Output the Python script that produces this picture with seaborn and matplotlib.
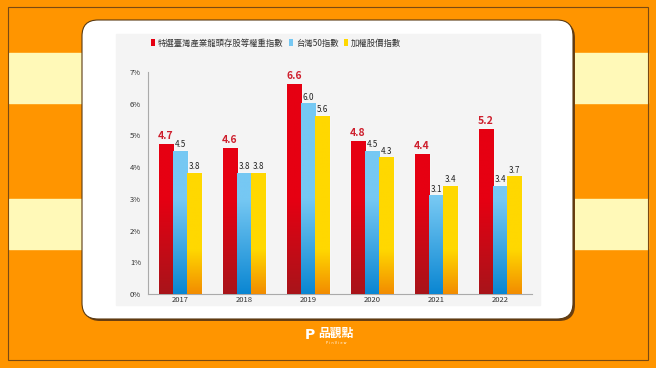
import numpy as np
import pandas as pd
import seaborn as sns
import matplotlib.pyplot as plt
import matplotlib.colors as mcolors
from matplotlib.patches import Rectangle, FancyBboxPatch, Patch
from matplotlib.transforms import IdentityTransform

# 資料
years = ["2017", "2018", "2019", "2020", "2021", "2022"]
series = ["特選臺灣產業龍頭存股等權重指數", "台灣50指數", "加權股價指數"]
val_select = [4.7, 4.6, 6.6, 4.8, 4.4, 5.2]
val_tw50 = [4.5, 3.8, 6.0, 4.5, 3.1, 3.4]
val_taiex = [3.8, 3.8, 5.6, 4.3, 3.4, 3.7]

df = pd.DataFrame({
    "year": years * 3,
    "series": [s for s in series for _ in years],
    "value": val_select + val_tw50 + val_taiex,
})

# 漸層色 (上, 下, 過渡高度)
grad = {
    series[0]: ("#E60012", "#A8141A", 3.0),
    series[1]: ("#76C8F3", "#0A86D2", 3.0),
    series[2]: ("#FFD800", "#F28C00", 1.4),
}
flat = [grad[s][0] for s in series]

sns.set_theme(style="white")
plt.rcParams["font.family"] = ["Noto Sans CJK TC", "DejaVu Sans"]

W, H = 656, 368
fig = plt.figure(figsize=(W / 100, H / 100), dpi=100)
fig.patch.set_facecolor("#FF9500")


def fx(px):
    return px / W


def fy(py):
    return 1 - py / H


# 背景裝飾
for top in (53, 199):
    fig.patches.append(Rectangle((fx(9), fy(top + 50)), fx(648) - fx(9), 50 / H,
                                 transform=fig.transFigure, color="#FFF9B8", zorder=0))
fig.patches.append(Rectangle((fx(8), fy(360)), fx(648) - fx(8), fy(7) - fy(360),
                             transform=fig.transFigure, fill=False,
                             edgecolor="#7A4A12", lw=0.8, zorder=1))

# 卡片 (像素座標)
fig.patches.append(FancyBboxPatch((84, H - 321), 491, 299, boxstyle="round,pad=0,rounding_size=16",
                                  transform=IdentityTransform(), facecolor="#6A3E10",
                                  edgecolor="none", zorder=2))
fig.patches.append(FancyBboxPatch((82, H - 319), 491, 299, boxstyle="round,pad=0,rounding_size=16",
                                  transform=IdentityTransform(), facecolor="white",
                                  edgecolor="#5A3A12", lw=0.8, zorder=3))
fig.patches.append(Rectangle((fx(116), fy(305)), fx(540) - fx(116), fy(34) - fy(305),
                             transform=fig.transFigure, color="#F4F4F4", zorder=4))

ax = fig.add_axes([fx(148), fy(294), fx(532) - fx(148), fy(72) - fy(294)])
ax.set_facecolor("none")
ax.set_zorder(5)

sns.barplot(data=df, x="year", y="value", hue="series", palette=flat, width=0.66,
            saturation=1, ax=ax, legend=False)

# 漸層填色
for cont, s in zip(ax.containers, series):
    top_c, bot_c, ramp = grad[s]
    top_rgb = np.array(mcolors.to_rgb(top_c))
    bot_rgb = np.array(mcolors.to_rgb(bot_c))
    for bar in cont:
        x0 = bar.get_x()
        x1 = x0 + bar.get_width()
        h = bar.get_height()
        ys = np.linspace(0, h, 200)
        t = np.clip(ys / ramp, 0, 1)[:, None]
        img = (bot_rgb * (1 - t) + top_rgb * t)[:, None, :]
        ax.imshow(img, extent=(x0, x1, 0, h), origin="lower", aspect="auto", zorder=3)

# 數值標籤
for i, (cont, s) in enumerate(zip(ax.containers, series)):
    for bar in cont:
        xc = bar.get_x() + bar.get_width() / 2
        h = bar.get_height()
        if i == 0:
            ax.annotate(f"{h:.1f}", (xc, h), xytext=(0, 2.5), textcoords="offset points",
                        ha="center", va="bottom", fontsize=7.5, fontweight="bold",
                        color="#CE1E2C", zorder=6)
        else:
            ax.annotate(f"{h:.1f}", (xc, h), xytext=(0, 1.5), textcoords="offset points",
                        ha="center", va="bottom", fontsize=5.8, color="#222222", zorder=6)

ax.set_xlim(-0.5, 5.5)
ax.set_ylim(0, 7)
ax.set_yticks(range(8))
ax.set_yticklabels([f"{i}%" for i in range(8)])
ax.tick_params(axis="both", length=0, labelsize=5.5, colors="#333333")
ax.tick_params(axis="y", pad=5)
ax.tick_params(axis="x", pad=1.5)
ax.set_xlabel("")
ax.set_ylabel("")
for side in ("top", "right"):
    ax.spines[side].set_visible(False)
for side in ("left", "bottom"):
    ax.spines[side].set_color("#AAAAAA")
    ax.spines[side].set_linewidth(0.8)

handles = [Patch(facecolor=c, edgecolor="none") for c in ["#E60012", "#76C8F3", "#FFD800"]]
leg = fig.legend(handles, series, loc="center left", bbox_to_anchor=(fx(143), fy(43)),
                 ncol=3, frameon=False, fontsize=6, handlelength=0.55, handleheight=0.9,
                 handletextpad=0.35, columnspacing=0.6, labelcolor="#333333")
leg.set_zorder(6)

# 標誌
fig.text(fx(310), fy(335), "P", fontsize=10, fontweight="bold", color="white",
         ha="center", va="center", family=["DejaVu Sans"])
fig.text(fx(336), fy(333), "品觀點", fontsize=8.5, fontweight="bold", color="white",
         ha="center", va="center")
fig.text(fx(336), fy(343), "P i n V i e w", fontsize=2.5, color="white",
         ha="center", va="center", family=["DejaVu Sans"])

fig.savefig("out.png", dpi=100, facecolor=fig.get_facecolor())
